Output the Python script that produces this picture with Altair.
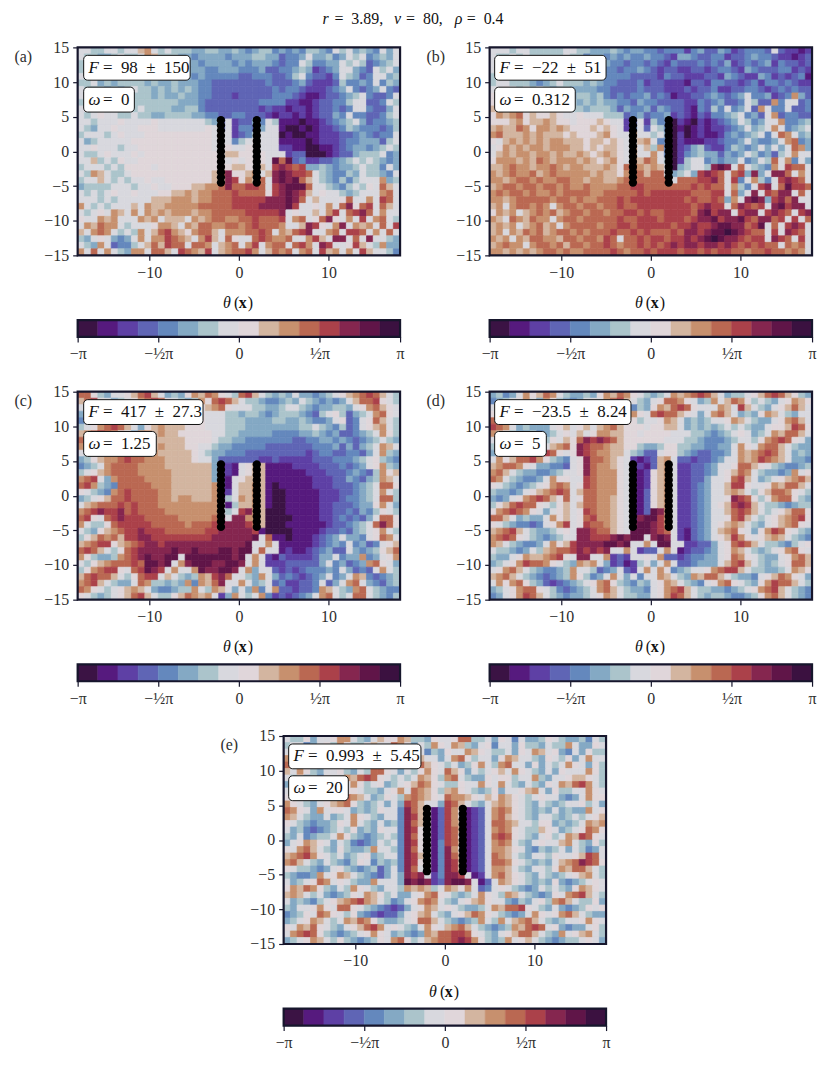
import math
import altair as alt
import pandas as pd

FONT = "Liberation Serif"
FRAME = "#16162c"
TEXT = "#2e2e2e"
COLORS = ["#3b1344", "#561a7e", "#5e40a5", "#5f65b5", "#6488bd", "#84a9c4", "#abc4cb", "#d8d8de",
          "#e0d6da", "#d3b5a0", "#c7906e", "#ba6852", "#ab414a", "#85264f", "#601548", "#3b1140"]

XMIN, XMAX, YMIN, YMAX = -18, 18, -15, 15
NCOL, NROW = 48, 32

PANEL_A = [
"77667767 79a76766 65566556 54566454 54665476 75654757",
"76655676 67a96665 54555545 55665534 45755645 76745657",
"66766566 66765655 55455554 54555434 47644557 67634567",
"67656665 66565655 55544555 44453344 56523457 75437675",
"76566656 55656565 54544444 33444334 67433247 65347756",
"66756566 66565565 55443333 33334333 45322236 44547465",
"76665656 76656565 65443333 33333434 43222345 74345743",
"75667656 66656556 55443332 33333444 32112334 56743347",
"67767576 66666665 55433333 33344442 21123344 67733476",
"78676667 67666655 66433333 33323221 22123343 47743357",
"76787766 76655666 65544334 43332122 12123354 74433467",
"77677787 77787777 77765372 33547611 10112345 67534456",
"76577877 78887777 77787372 44357710 01012234 65444346",
"67776787 77888888 88887772 34677701 00112223 34543447",
"75677777 88888888 88887774 67877711 11012223 44555367",
"77877767 78888888 88887887 78877722 11001123 45545676",
"76678777 87888888 88888899 88887772 33000123 35666745",
"77967687 78888888 88888878 78887ebe 34223345 67676545",
"67776768 88878888 88888889 98897cdc bc556545 56766475",
"76a97667 88888888 88889bd8 89a79ded ccb76544 65766547",
"67797676 77877888 888899dc 8a9b7ded eb976546 46777a56",
"56666777 67787788 899aabdb bccb7cde eeb77654 67687b97",
"76767877 87778899 a9aabbbc bbbb8cde dc978776 56777ab7",
"77767677 777999aa a9aabbbc ccccddde db797778 b77a7cb7",
"a7676777 97a99aaa aabbbbbc cccdddde c7787a7b d8bc7b97",
"76787a97 a7a9a9aa a9aabbbb bcccccd7 87797ac7 bcdb7a77",
"877a9a77 7a9a7999 7a9abbaa bbcbbbc7 ab78bd87 a7c7ab76",
"7a9baa76 7778aa97 a9bbaabb abcbbba7 79dc87ad 7a9a7b7c",
"97aba767 6a79bca9 8abb97aa abbcb7a9 bcd77ab7 ccb7a7b7",
"65787545 7a7aacba 97ac97b8 77bcbaab 77ac97dd 7b7d7765",
"765a7344 679b9cbb 7bba79ab 7ac7abb7 bca7dc77 8c976a55",
"a7b7a765 aa7bb97c ba9c79ab bca79bab 7ab7c9a7 a7c97764",
]

PANEL_B = [
"77767766 66677665 55654554 43444245 33542344 43732212",
"76676766 66676645 54545445 44325543 34423345 44322123",
"77676766 66665544 55443443 43243334 34352343 45243323",
"77765555 55555544 54434454 32332233 23443254 33344232",
"67656544 45556665 54444333 32433222 33254322 54232341",
"67766654 56766656 54433342 33222133 24433234 24434322",
"77876767 65665555 44333343 33222323 34223344 32343433",
"88777677 66765665 64343445 34312233 45434574 45234a53",
"89888877 77766565 65544354 43333224 34533476 33a47734",
"999a9888 77776656 66535445 35433214 36474573 a7447334",
"8a9ab898 89877877 76663453 44523213 24456745 37a34433",
"8889a899 a9887888 98772372 64402102 12345764 577a4456",
"9a99ba8a a9a98889 89872473 76401012 12234575 67a74567",
"ab999a9a 99989888 9a877a77 67502012 11245456 747ba756",
"879a9a9a 9aa99989 9898779a 74402111 22344575 4457ab45",
"78a9a9aa 9aaa9989 89987a79 6a402356 32246545 75757ba5",
"79a9aa9a a9a99a98 9a987a77 a7402456 55354576 45367a77",
"8aaa9a9b a9aaa9a9 89a87a9b a7602677 45455745 76b7a475",
"99abaa9a aba9aa99 9a98bba9 a9705677 6ded7b76 54a7cbb7",
"a9abaab9 abaaaaa9 a998abb9 bb75675c dcb7bc5d 57ddb7a7",
"aa9abbab aabbaa9a a99abbbb bbb7bbbc cdb7c47a 647cdcb7",
"9abbabba bbabaaba aaabbccb bbbbbbcb cbb7a647 cd7beccb",
"ababbaba ababbbba abbbbbcb ccccccbb bcc7b57d 7cbdd7b7",
"aa9abbbb babbabaa bbbcbccc cccccbcb bcb5a7de d5cdbd77",
"9a7abbab a7abbabb abbcbbcc ccccccbc dcc7bdcb c7decdd7",
"8a9a79ab ab9abbab babbccbc bbccccbd ecdd7cdd 7cdcb7cd",
"a97ba9ba a7abbabb bbbcbbcc cbcccbcd decddecb ddbc7c7b",
"9a9a79ab 9a7abbbb abbccbcc cccbccdc cdeeddbc e7b7cdc7",
"9a7a9bab 9abbabab bbcbbcbc bbbcbddc deefedcb b7c7dcb7",
"a9a7a9bb aa9bbabb acb7bbcb ccbccdcd efeddcbc c7dcb7c7",
"9abaa7ab bab9bbab bcbabbcb cbcdcddc ddcdcbcb cbb7bab7",
"aa9a9a9a bbabaabb bbcbabbc bcccbccb cbccbbab bcbbaba7",
]

PANEL_C = [
"bb865778 9bc97565 8a9ba876 bc976565 75545678 9abcb976",
"9bc87567 8abcb876 56a8bcb9 76654456 57654545 79bbc876",
"7a9b8765 5789cb87 5689ab87 77665567 76545566 578ab987",
"56789ba7 6789ab97 99877766 56654566 65436786 3567ab87",
"45678abb a8767899 98877766 65555665 56544578 3478b976",
"678abcb9 7589a999 88877766 65555555 56676546 34789a76",
"9abcba87 5aa9a998 88887766 55555444 45565453 34567a86",
"bc976568 bba99999 88887665 54444444 33445545 43456765",
"a8654aab bba9a999 88776554 44443333 33344453 53567a97",
"76789abb baaa9999 98765544 43333333 33234433 44357a65",
"5689aabc bbaaa999 98775333 33322322 22233344 45678654",
"4567abbb baaaa999 99995121 78991111 22223334 34578a65",
"6789abbb baaaaa99 99995221 78991111 11222333 45436a89",
"abc75abb bbaaaa99 99995217 89991111 11122233 54356a97",
"bca654bb bbbaaa99 9999a217 99a91011 11122233 34567bb8",
"87654abc bbbbaa99 9999a127 99a91001 11112223 34567a76",
"56789bbc bbbbaa9a a999a167 a9a91001 11112223 44567bb6",
"79abbbcb cbbbaaaa aaaaa716 99a91001 11112233 34558a75",
"abcdccdb cbbbbaaa aaaaa767 cda90001 11112233 43546876",
"bc87bcdc ccbbbbba aaaabd7d daa90000 11112234 34357bb8",
"a7668bcc cccbbbbb abbbcddd dcb90001 11111233 4567bdb8",
"76589abc cdcccbbb bbbccddd ddc10000 11112334 35678a76",
"689bab9c cddccccc ccccdddd dde7b110 11123457 55478ba7",
"9abcc89a bcddcddd dddddddd de77a711 11123454 74534789",
"bcb9768b cddddded dedddeed ee7b7712 11234533 7545689b",
"a86556ab cdeddee7 eeeeeeed e7a72132 22235574 55a4578a",
"7689abbb cbeede7a deeeddee d7a72223 33335745 345ab875",
"68abcc87 bcedc7a7 7aeddeed 7a577323 23444547 53437a76",
"9bcbb976 8bcc7976 56a9cdb7 765a7534 32345745 7a943456",
"abc97655 7ba66565 a4a9bd77 a7567342 23347357 ab754356",
"ba876789 a9754456 6a76a975 75a47a33 2334a976 5ab76544",
"87656789 bc976689 ba9a725a 767a4232 3457ab76 7bb76546",
]

PANEL_D = [
"56457a89 ba765565 8a9ba876 567a9abc b9756678 9bcb9865",
"45678a75 a8654578 7abc9765 78bba875 6a79ba86 76578a98",
"76567a87 76545878 ba765465 8a9bcb87 77a97c97 65789b97",
"87654557 68a9a875 5789ba87 bcbb9875 7ab97565 8a976577",
"ba865456 7a9bb875 78cdb867 78a97565 6778a976 5578ab97",
"cba75655 57897897 9ab98887 88997565 65676765 57889cb8",
"a9765564 56787978 aa998878 88877766 54567875 67a9bb97",
"75654556 68798bdc dcb98888 88777665 44456776 8abcb875",
"65545a76 79ab8dcb ba998865 56886655 44557a87 abb97655",
"54567a9b cb878dcb aa997653 37886543 34457a9a bcb97565",
"7a89bbca 865478db ba987212 39a73323 34577a9a cba97554",
"9abba875 544378db aa987121 39a72233 45778bb9 87654456",
"ab976554 456778db aaa87112 89a72233 45789ba7 65545a78",
"ba765445 7a8877cb aaa87112 89a72233 5778bc97 56789ab9",
"87654567 8aba78cb aaa87112 89a72234 5779cc87 78a9bb97",
"65545789 abcb79bb aaa87113 89a72234 5779a976 89bba876",
"54578abc b98b78bb aa987113 89a72234 5778dcb8 68abb865",
"689bcbb8 768979bb aa987113 89a72234 5789cdc9 76654566",
"8abcba87 578978cb aa987113 eda72234 5779bcb9 76789bb8",
"bb975655 7a8978bc aa9871de eca72234 5778bc97 6789abc8",
"87654434 78ac78cb ba987dee dca72234 5789a976 5789ab87",
"9abc9765 56787ddc bb987eee dcb72134 579ab875 8acb8765",
"abcb8765 45677ddc ccdedee7 ded72134 5789ca87 89a97654",
"a9765445 7a89cddd deede77a 7ee77223 3578bcb9 76654678",
"76654576 9abbcdcd cd77a723 37a71233 4578a976 5678ab87",
"65578a99 abc87dd7 7a232778 7a332344 5578ba87 65578ab9",
"5678acbb a8765a9a 75231267 57a73345 5579bc97 65678bb9",
"78ab9765 4456a776 3457327a 7a845677 8abcc976 65567a98",
"9ab97654 3456a864 57a75747 7a9765a9 bb976554 789ba875",
"7a8ab865 32345678 ab865465 78a97654 78ab8765 8acbb976",
"5678abb8 76434567 ab976554 78abc976 65545678 abc97654",
"4578acb9 76545567 8a976655 78acb976 56654456 8ab97654",
]

PANEL_E = [
"76685778 aa765798 8a966587 78bb6675 87475568 76556476",
"67745786 a8668977 ba8576a8 7a965784 77586657 66a75587",
"7a866679 75587a98 76a87465 877a9876 67587a97 85475866",
"aa775475 687a9876 57669775 7ab86775 8a977658 76857a77",
"ba865675 47778876 5578b987 67568a76 ab775857 67a87586",
"97a86577 86576bb8 75768a87 b9857678 97a87657 58777a86",
"76856487 7a9bcb87 6767a986 ab765587 88677a65 77899876",
"57564678 97a86785 6789ba87 66877a87 a7657658 7a9bca76",
"75434587 68876657 8a7ba986 9a876568 57789a75 86677a87",
"86545687 8ba97568 76aba987 baa98798 a9876787 75457a88",
"a8765789 ab865675 75cb9775 cb976579 a9876576 56778675",
"ba875a78 87565687 74db9713 ca81237a ba876565 75655a78",
"a9765575 67a87657 74dc9713 ca81237a b9876577 65676789",
"87654556 87a76575 64db9813 ca91237b ba977688 56567a9a",
"75643456 76856587 74dc8713 cb91237a ba876698 75678ba8",
"65745667 a8654567 64db8813 cb81237b cb876578 67a9cb87",
"578a9875 76434576 74dc8714 cb91237a ba765787 79a76586",
"87ab9765 86556a77 64db8714 da81237a a9875465 67576457",
"9abca876 75678567 74dc9714 db91237b a9765776 87789cb7",
"ab976576 54687465 64dc8714 dc91237b ba876565 79abdcb8",
"87665457 86545635 74db7714 dc91237a a9765776 8a9bb976",
"65445a78 a9765435 75dcd724 ddc7127a b9876576 56789a76",
"75678ba7 87655a77 75eded23 deed7137 a9876565 85456787",
"8a9ba865 76a87657 76a9a967 a98a7347 87654576 7658a987",
"9a976754 5687a986 75578ab8 76567a87 6a976545 87abc976",
"75654678 9abca976 4578aba7 65789a87 75465786 ab976685",
"65778a87 bb876543 23578a97 8765567a 9bbc8765 75456878",
"45687ba8 76854323 35789a76 5789ba87 65457a87 8ab97655",
"5678a976 7a9ba865 5678bb97 65456a76 a79ab976 56778a87",
"87a9b876 5789bca7 87657a87 9ab97654 56a9bcb7 85455786",
"7abcb865 45678a87 56545a9b bccb8765 789bb976 5a789a76",
"5678a976 86545687 ab8679ab bcdca865 6a789765 45667875",
]

ROD_X = [-2, 2]
ROD_Y = [-4.5, -3.75, -3, -2.25, -1.5, -0.75, 0, 0.75, 1.5, 2.25, 3, 3.75, 4.5]

LABELS = ["(a)", "(b)", "(c)", "(d)", "(e)"]
F_TEXT = ["=\u200298\u2002±\u2002150", "=\u2002−22\u2002±\u200251", "=\u2002417\u2002±\u200227.3",
          "=\u2002−23.5\u2002±\u20028.24", "=\u20020.993\u2002±\u20025.45"]
W_TEXT = ["=\u20020", "=\u20020.312", "=\u20021.25", "=\u20025", "=\u200220"]
F_END = [-5.44, -5.0, -4.0, -2.22, -2.67]
W_END = [-11.67, -8.44, -9.22, -11.67, -10.78]
BOX_X0 = [-17.33, -17.44, -17.33, -17.44, -17.44]
BOX_Y = [(13.85, 10.27), (9.26, 5.67)]

BAR_TICKS = [-math.pi, -math.pi / 2, 0, math.pi / 2, math.pi]
BAR_LABELS = ["−π", "−½π", "0", "½π", "π"]

color_scale = alt.Scale(domain=list(range(16)), range=COLORS)
xs = alt.Scale(domain=[XMIN, XMAX], nice=False, zero=False)
ys = alt.Scale(domain=[YMIN, YMAX], nice=False, zero=False)


def grid(rows):
    out = []
    for j, r in enumerate(rows):
        r = r.replace(" ", "").ljust(NCOL, "7")[:NCOL]
        for i, c in enumerate(r):
            out.append({
                "x0": XMIN + i * (XMAX - XMIN) / NCOL,
                "x1": XMIN + (i + 1) * (XMAX - XMIN) / NCOL,
                "y0": YMAX - j * (YMAX - YMIN) / NROW,
                "y1": YMAX - (j + 1) * (YMAX - YMIN) / NROW,
                "level": int(c, 16),
            })
    return pd.DataFrame(out)


def heat_panel(k, rows):
    x_axis = alt.Axis(
        values=[-10, 0, 10], grid=False, domain=False, labelFont=FONT, labelFontSize=16,
        labelColor=TEXT, tickColor=FRAME, tickSize=5, tickWidth=1.2, labelPadding=4,
        labelOverlap=False, title=None)
    y_axis = alt.Axis(
        values=[-15, -10, -5, 0, 5, 10, 15], grid=False, domain=False, labelFont=FONT,
        labelFontSize=16, labelColor=TEXT, tickColor=FRAME, tickSize=5, tickWidth=1.2,
        labelPadding=4, labelOverlap=False, title=LABELS[k], titleFont=FONT, titleFontSize=16,
        titleFontWeight="normal", titleColor=TEXT, titleAngle=0, titleAlign="left",
        titleBaseline="middle", titleX=-64, titleY=9)

    def X(f):
        return alt.X(f, scale=xs, axis=x_axis)

    def Y(f):
        return alt.Y(f, scale=ys, axis=y_axis)

    base = alt.Chart(grid(rows)).mark_rect(clip=True, strokeWidth=0.7).encode(
        x=X("x0:Q"), x2="x1:Q", y=Y("y0:Q"), y2="y1:Q",
        color=alt.Color("level:O", scale=color_scale, legend=None),
        stroke=alt.Stroke("level:O", scale=color_scale, legend=None),
    )
    rods = pd.DataFrame([{"x": x, "y": y} for x in ROD_X for y in ROD_Y])
    dots = alt.Chart(rods).mark_circle(size=70, color="black", opacity=1).encode(x=X("x:Q"), y=Y("y:Q"))

    x0 = BOX_X0[k]
    boxes = pd.DataFrame([
        {"a": x0, "b": F_END[k], "c": BOX_Y[0][0], "d": BOX_Y[0][1]},
        {"a": x0, "b": W_END[k], "c": BOX_Y[1][0], "d": BOX_Y[1][1]},
    ])
    box = alt.Chart(boxes).mark_rect(fill="white", stroke="#111111", strokeWidth=1, cornerRadius=4).encode(
        x=X("a:Q"), x2="b:Q", y=Y("c:Q"), y2="d:Q")
    symb = pd.DataFrame([
        {"x": x0 + 0.55, "y": sum(BOX_Y[0]) / 2, "t": "F"},
        {"x": x0 + 0.55, "y": sum(BOX_Y[1]) / 2, "t": "ω"},
    ])
    rest = pd.DataFrame([
        {"x": x0 + 2.15, "y": sum(BOX_Y[0]) / 2, "t": F_TEXT[k]},
        {"x": x0 + 2.15, "y": sum(BOX_Y[1]) / 2, "t": W_TEXT[k]},
    ])
    t1 = alt.Chart(symb).mark_text(font=FONT, fontSize=17, fontStyle="italic", align="left",
                                   baseline="middle", color="#111111").encode(
        x=X("x:Q"), y=Y("y:Q"), text="t:N")
    t2 = alt.Chart(rest).mark_text(font=FONT, fontSize=17, align="left",
                                   baseline="middle", color="#111111").encode(
        x=X("x:Q"), y=Y("y:Q"), text="t:N")
    d = pd.DataFrame({"a": [XMIN], "b": [XMAX], "c": [YMIN], "e": [YMAX]})
    fr = alt.Chart(d).mark_rect(filled=False, stroke=FRAME, strokeWidth=2.2, clip=False).encode(
        x=X("a:Q"), x2="b:Q", y=Y("c:Q"), y2="e:Q")
    return alt.layer(base, dots, box, t1, t2, fr).properties(width=324, height=209)


def color_bar():
    n = len(COLORS)
    step = 2 * math.pi / n
    d = pd.DataFrame([{"a": -math.pi + i * step, "b": -math.pi + (i + 1) * step, "level": i} for i in range(n)])
    bs = alt.Scale(domain=[-math.pi, math.pi], nice=False, zero=False)
    expr = "{" + ",".join(f"'{i}':'{s}'" for i, s in enumerate(BAR_LABELS)) + "}"
    idx = "round((datum.value+PI)/(PI/2))"
    bars = alt.Chart(d).mark_rect(strokeWidth=0.5).encode(
        x=alt.X("a:Q", scale=bs, title=None, axis=alt.Axis(
            values=BAR_TICKS, grid=False, domain=False, labelFont=FONT, labelFontSize=16,
            labelColor=TEXT, tickColor=FRAME, tickSize=5, tickWidth=1.2, labelPadding=4,
            labelFlush=False, labelBound=False, labelOverlap=False,
            labelExpr=f"{expr}[{idx}]")),
        x2="b:Q",
        color=alt.Color("level:O", scale=color_scale, legend=None),
        stroke=alt.Stroke("level:O", scale=color_scale, legend=None),
    )
    fr = alt.Chart(pd.DataFrame({"a": [-math.pi], "b": [math.pi]})).mark_rect(
        filled=False, stroke=FRAME, strokeWidth=2.2).encode(
        x=alt.X("a:Q", scale=bs), x2="b:Q")
    parts = []
    for txt, dx, style, weight in [("θ", -16, "italic", "normal"), ("(", -5, "normal", "normal"),
                                   ("x", 0, "normal", "bold"), (")", 9, "normal", "normal")]:
        parts.append(alt.Chart(pd.DataFrame({"t": [txt], "v": [0.0]})).mark_text(
            font=FONT, fontSize=16, fontStyle=style, fontWeight=weight, align="left",
            dx=dx, color="#111111").encode(
            x=alt.X("v:Q", scale=bs), y=alt.value(-17), text="t:N"))
    return alt.layer(bars, fr, *parts).properties(width=324, height=17)


def panel(k, rows):
    return alt.vconcat(heat_panel(k, rows), color_bar(), spacing=15)


HEAD = [(323, "r", "italic"), (335, "=\u20023.89,", "normal"), (395, "v", "italic"), (407, "=\u200280,", "normal"),
        (456, "ρ", "italic"), (468, "=\u20020.4", "normal")]
hdr_scale = alt.Scale(domain=[77, 814], nice=False, zero=False)
hdr_layers = []
for px, txt, style in HEAD:
    hdr_layers.append(alt.Chart(pd.DataFrame({"x": [px], "t": [txt]})).mark_text(
        font=FONT, fontSize=16, fontStyle=style, align="left", baseline="alphabetic", color="#111111").encode(
        x=alt.X("x:Q", scale=hdr_scale, axis=None), y=alt.value(8), text="t:N"))
header = alt.layer(*hdr_layers).properties(width=737, height=12)

spacer = alt.Chart(pd.DataFrame({"x": [0]})).mark_point(opacity=0).encode(x=alt.value(0)).properties(width=143, height=1)

row1 = alt.hconcat(panel(0, PANEL_A), panel(1, PANEL_B), spacing=21)
row2 = alt.hconcat(panel(2, PANEL_C), panel(3, PANEL_D), spacing=21)
row3 = alt.hconcat(spacer, panel(4, PANEL_E), spacing=0)
top = alt.vconcat(header, row1, spacing=11)
upper = alt.vconcat(top, row2, spacing=22)

chart = (alt.vconcat(upper, row3, spacing=22)
         .configure_view(stroke=None)
         .configure_axis(labelOverlap=False)
         .properties(background="white", padding={"left": 6, "top": 1, "right": 5, "bottom": 5}))
chart.save("out.html", embed_options={"renderer": "svg", "actions": False})
